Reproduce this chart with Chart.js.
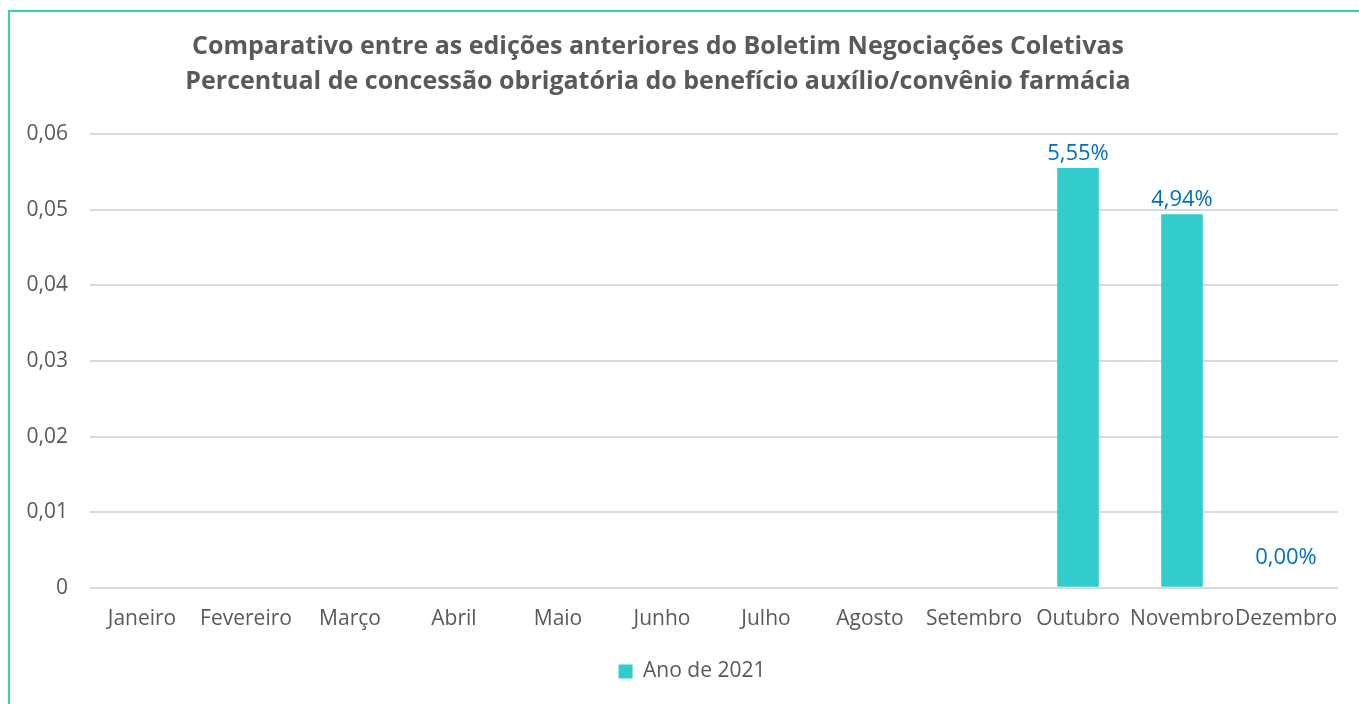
<!DOCTYPE html>
<html>
<head>
<meta charset="utf-8">
<script src="https://cdn.jsdelivr.net/npm/chart.js@4.4.1/dist/chart.umd.min.js"></script>
<style>
  html, body { margin: 0; padding: 0; background: #fff; }
  #wrap { position: relative; width: 1359px; height: 704px; overflow: hidden; }
  #frame { position: absolute; left: 8px; top: 10px; width: 1400px; height: 800px;
           border-left: 2px solid #2fd8a8; border-top: 2px solid #2fd8a8; }
  #title { position: absolute; left: 108px; width: 1100px; top: 27px; text-align: center;
           font-family: "Open Sans", sans-serif; font-weight: bold; font-size: 25px;
           line-height: 35px; color: #595959; white-space: nowrap; }
  canvas { position: absolute; left: 0; top: 0; }
</style>
</head>
<body>
<div id="wrap">
  <div id="frame"></div>
  <canvas id="chart" width="1359" height="704"></canvas>
  <div id="title">Comparativo entre as edições anteriores do Boletim Negociações Coletivas<br>Percentual de concessão obrigatória do benefício auxílio/convênio farmácia</div>
</div>
<script>
// data
const MONTHS = ["Janeiro", "Fevereiro", "Março", "Abril", "Maio", "Junho", "Julho",
  "Agosto", "Setembro", "Outubro", "Novembro", "Dezembro"];
const VALUES_2021 = [null, null, null, null, null, null, null, null, null, 0.0555, 0.0494, 0];
const SERIES_NAME = "Ano de 2021";
const Y_TICKS = [0, 0.01, 0.02, 0.03, 0.04, 0.05, 0.06];

const TEXT = "#595959";
const BAR = "#33cccc";
const LABEL = "#0070c0";
const FONT = "'Open Sans', sans-serif";

function fmtTick(v) {
  return v === 0 ? "0" : v.toFixed(2).replace(".", ",");
}
function fmtPct(v) {
  return (v * 100).toFixed(2).replace(".", ",") + "%";
}

// draws the value above each bar (Excel style data labels)
const barLabels = {
  id: "barLabels",
  afterDatasetsDraw(chart) {
    const ctx = chart.ctx;
    const meta = chart.getDatasetMeta(0);
    const base = chart.scales.y.getPixelForValue(0);
    ctx.save();
    ctx.font = "22px " + FONT;
    ctx.fillStyle = LABEL;
    ctx.textAlign = "center";
    ctx.textBaseline = "bottom";
    meta.data.forEach((bar, i) => {
      const v = VALUES_2021[i];
      if (v === null) return;
      const top = Math.min(bar.y, base - 16);
      ctx.fillText(fmtPct(v), bar.x, top - 3);
    });
    ctx.restore();
  }
};

// the legend in the original sits a bit right of the canvas centre
const legendShift = {
  id: "legendShift",
  afterLayout(chart) {
    chart.legend.left += 18;
    chart.legend.right += 18;
  }
};

new Chart(document.getElementById("chart"), {
  type: "bar",
  data: {
    labels: MONTHS,
    datasets: [{
      label: SERIES_NAME,
      data: VALUES_2021,
      backgroundColor: BAR,
      barPercentage: 0.4,
      categoryPercentage: 1.0
    }]
  },
  options: {
    responsive: false,
    animation: false,
    layout: { padding: { left: 10, right: 21, top: 134, bottom: 12 } },
    plugins: {
      title: { display: false },
      tooltip: { enabled: false },
      legend: {
        position: "bottom",
        labels: {
          color: TEXT,
          font: { family: FONT, size: 21 },
          boxWidth: 14,
          boxHeight: 14,
          padding: 10
        }
      }
    },
    scales: {
      x: {
        grid: { display: false, drawTicks: false },
        border: { display: false },
        ticks: { color: TEXT, font: { family: FONT, size: 21 }, padding: 19,
                 autoSkip: false, maxRotation: 0, minRotation: 0 }
      },
      y: {
        min: 0,
        max: 0.06,
        afterFit: (s) => { s.width = 80; },
        afterBuildTicks: (s) => { s.ticks = Y_TICKS.map((v) => ({ value: v })); },
        grid: { color: "#d9d9d9", lineWidth: 2, drawTicks: false },
        border: { display: false },
        ticks: { color: TEXT, font: { family: FONT, size: 21 }, padding: 22,
                 callback: (v) => fmtTick(v) }
      }
    }
  },
  plugins: [barLabels, legendShift]
});
</script>
</body>
</html>
